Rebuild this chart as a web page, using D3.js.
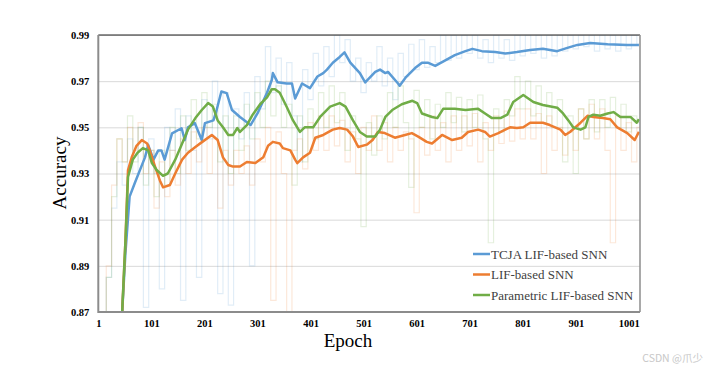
<!DOCTYPE html>
<html>
<head>
<meta charset="utf-8">
<script src="https://cdn.jsdelivr.net/npm/d3@7/dist/d3.min.js"></script>
<style>
body { margin: 0; background: #fff; }
svg { display: block; }
</style>
</head>
<body>
<div></div>
<script>
var width = 716;
var height = 372;

// tick labels
var xTicks = [1, 101, 201, 301, 401, 501, 601, 701, 801, 901, 1001];
var yTicks = [0.87, 0.89, 0.91, 0.93, 0.95, 0.97, 0.99];

var seriesNames = ["TCJA LIF-based SNN", "LIF-based SNN", "Parametric LIF-based SNN"];
var seriesColors = ["#5b9bd5", "#ed7d31", "#70ad47"];

// raw accuracy, read every 10 epochs (1, 11, ... 1021)
var rawEpochs = d3.range(1, 1022, 10);
var tcjaRaw = [0.80, 0.86, 0.885, 0.915, 0.935, 0.925, 0.945, 0.93, 0.95, 0.872,
    0.945, 0.93, 0.88, 0.95, 0.94, 0.958, 0.875, 0.955, 0.94, 0.885,
    0.962, 0.945, 0.97, 0.878, 0.965, 0.873, 0.958, 0.945, 0.965, 0.89,
    0.972, 0.958, 0.985, 0.965, 0.98, 0.96, 0.978, 0.955, 0.935, 0.975,
    0.962, 0.982, 0.968, 0.985, 0.972, 0.99, 0.978, 0.988, 0.97, 0.98,
    0.965, 0.978, 0.97, 0.985, 0.968, 0.98, 0.962, 0.982, 0.972, 0.986,
    0.975, 0.988, 0.976, 0.985, 0.978, 0.99, 0.979, 0.99, 0.98, 0.99,
    0.982, 0.99, 0.98, 0.988, 0.978, 0.99, 0.98, 0.988, 0.979, 0.99,
    0.981, 0.99, 0.982, 0.99, 0.98, 0.99, 0.981, 0.99, 0.983, 0.99,
    0.984, 0.99, 0.985, 0.99, 0.983, 0.99, 0.984, 0.99, 0.983, 0.99,
    0.984, 0.99, 0.986];
var lifRaw = [0.80, 0.85, 0.89, 0.925, 0.945, 0.935, 0.95, 0.94, 0.952, 0.93,
    0.94, 0.915, 0.935, 0.92, 0.94, 0.925, 0.945, 0.93, 0.948, 0.935,
    0.95, 0.93, 0.945, 0.915, 0.94, 0.925, 0.94, 0.93, 0.942, 0.925,
    0.945, 0.935, 0.95, 0.875, 0.948, 0.93, 0.87, 0.94, 0.945, 0.932,
    0.952, 0.94, 0.955, 0.94, 0.955, 0.942, 0.953, 0.935, 0.948, 0.93,
    0.95, 0.94, 0.955, 0.94, 0.952, 0.935, 0.95, 0.94, 0.948, 0.945,
    0.913, 0.95, 0.938, 0.955, 0.94, 0.952, 0.935, 0.955, 0.94, 0.955,
    0.942, 0.956, 0.935, 0.952, 0.94, 0.955, 0.943, 0.957, 0.944, 0.958,
    0.945, 0.958, 0.945, 0.956, 0.93, 0.955, 0.94, 0.95, 0.938, 0.948,
    0.94, 0.958, 0.945, 0.96, 0.945, 0.958, 0.94, 0.90, 0.955, 0.94,
    0.952, 0.935, 0.95];
var plifRaw = [0.80, 0.855, 0.885, 0.92, 0.945, 0.935, 0.955, 0.935, 0.95, 0.925,
    0.94, 0.92, 0.94, 0.925, 0.95, 0.93, 0.955, 0.94, 0.962, 0.945,
    0.965, 0.95, 0.96, 0.935, 0.955, 0.93, 0.955, 0.94, 0.96, 0.945,
    0.965, 0.95, 0.97, 0.955, 0.968, 0.95, 0.96, 0.925, 0.955, 0.935,
    0.958, 0.945, 0.965, 0.95, 0.968, 0.952, 0.965, 0.94, 0.955, 0.945,
    0.907, 0.952, 0.938, 0.955, 0.945, 0.965, 0.95, 0.968, 0.952, 0.924,
    0.966, 0.95, 0.962, 0.945, 0.96, 0.95, 0.965, 0.952, 0.963, 0.948,
    0.962, 0.95, 0.964, 0.945, 0.90, 0.958, 0.948, 0.962, 0.955, 0.972,
    0.958, 0.97, 0.955, 0.968, 0.952, 0.965, 0.95, 0.962, 0.935, 0.955,
    0.93, 0.958, 0.945, 0.962, 0.948, 0.962, 0.95, 0.963, 0.95, 0.96,
    0.948, 0.955, 0.952];

// smoothed curves
var tcjaEpochs = [42, 46, 52, 60, 70, 89, 95, 105, 114, 120, 126, 140, 158, 164, 170, 183, 196, 202, 218, 224,
    233, 243, 253, 268, 288, 301, 319, 328, 330, 339, 356, 366, 372, 385, 400, 414, 425, 432, 443, 456,
    465, 476, 494, 504, 523, 532, 542, 547, 566, 569, 580, 598, 611, 622, 636, 655, 673, 693, 706, 724,
    749, 768, 790, 815, 839, 866, 885, 904, 928, 961, 998, 1020];
var tcjaSmooth = [0.855, 0.87, 0.895, 0.920, 0.926, 0.937, 0.9424, 0.936, 0.940, 0.940, 0.936, 0.9474, 0.9496, 0.9445, 0.950, 0.9518, 0.9445, 0.9518, 0.953, 0.9575,
    0.9655, 0.9648, 0.9575, 0.9545, 0.951, 0.956, 0.965, 0.9705, 0.9735, 0.9695, 0.969, 0.969, 0.9625, 0.969, 0.967, 0.972, 0.9735, 0.975, 0.978, 0.9805,
    0.9825, 0.978, 0.9735, 0.9695, 0.974, 0.975, 0.9735, 0.974, 0.969, 0.968, 0.9715, 0.9757, 0.978, 0.978, 0.9766, 0.979, 0.9813, 0.983, 0.984, 0.983,
    0.9826, 0.982, 0.9826, 0.9835, 0.984, 0.983, 0.9844, 0.9857, 0.9865, 0.986, 0.9857, 0.9857];

var lifEpochs = [42, 46, 52, 57, 64, 73, 83, 93, 98, 108, 117, 123, 136, 146, 159, 170, 184, 197, 215, 226,
    236, 246, 255, 268, 281, 297, 312, 321, 330, 343, 349, 363, 372, 376, 387, 400, 410, 425, 443, 456,
    470, 481, 491, 507, 518, 528, 541, 560, 579, 592, 604, 620, 630, 649, 668, 686, 698, 717, 730, 739,
    755, 768, 777, 790, 802, 815, 839, 852, 872, 881, 890, 910, 923, 934, 952, 966, 979, 998, 1012, 1020];
var lifSmooth = [0.855, 0.87, 0.90, 0.9315, 0.937, 0.942, 0.9445, 0.943, 0.940, 0.933, 0.927, 0.924, 0.925, 0.930, 0.936, 0.939, 0.9415, 0.9437, 0.9467, 0.9445,
    0.937, 0.9337, 0.933, 0.933, 0.935, 0.9345, 0.937, 0.942, 0.9437, 0.943, 0.941, 0.940, 0.936, 0.9345, 0.937, 0.939, 0.9455, 0.9467, 0.949, 0.9497,
    0.949, 0.946, 0.9415, 0.9425, 0.9445, 0.948, 0.9475, 0.9455, 0.9467, 0.9475, 0.946, 0.9437, 0.943, 0.9467, 0.9445, 0.9455, 0.948, 0.949, 0.948, 0.946,
    0.9475, 0.949, 0.950, 0.9497, 0.950, 0.952, 0.952, 0.951, 0.949, 0.9467, 0.948, 0.952, 0.955, 0.9545, 0.954, 0.9535, 0.950, 0.9475, 0.9445, 0.948];

var plifEpochs = [42, 46, 52, 57, 66, 75, 85, 95, 102, 111, 123, 132, 146, 159, 170, 184, 196, 208, 217, 226,
    236, 246, 255, 263, 268, 281, 292, 306, 319, 328, 334, 343, 356, 368, 381, 390, 406, 419, 438, 456,
    467, 481, 494, 507, 523, 532, 542, 555, 573, 593, 602, 611, 630, 640, 651, 673, 693, 717, 730, 743,
    759, 772, 783, 802, 821, 839, 866, 877, 887, 896, 910, 919, 925, 934, 947, 961, 972, 985, 1004, 1016, 1020];
var plifSmooth = [0.855, 0.87, 0.90, 0.9285, 0.936, 0.939, 0.941, 0.940, 0.9345, 0.9315, 0.929, 0.930, 0.936, 0.943, 0.949, 0.954, 0.9575, 0.9605, 0.959, 0.953,
    0.950, 0.9467, 0.9467, 0.9497, 0.948, 0.951, 0.9555, 0.960, 0.963, 0.9665, 0.9665, 0.965, 0.9589, 0.953, 0.948, 0.950, 0.950, 0.9545, 0.959, 0.9605,
    0.959, 0.953, 0.948, 0.946, 0.946, 0.949, 0.9545, 0.9575, 0.960, 0.9615, 0.9605, 0.956, 0.9545, 0.954, 0.958, 0.958, 0.9575, 0.958, 0.956, 0.954,
    0.954, 0.9555, 0.961, 0.964, 0.961, 0.9597, 0.9585, 0.956, 0.953, 0.950, 0.949, 0.950, 0.9545, 0.9555, 0.955, 0.956, 0.9566, 0.9545, 0.9545, 0.952, 0.9535];

var plotLeft = 98.3, plotRight = 640, plotTop = 35, plotBottom = 312;

var svg = d3.select("div")
    .append("svg")
    .attr("width", width)
    .attr("height", height)
    .style("background", "#fff");

var x = d3.scaleLinear().domain([1, 1022]).range([plotLeft, plotRight]);
var y = d3.scaleLinear().domain([0.87, 0.99]).range([plotBottom, plotTop]);

svg.append("clipPath").attr("id", "plot")
    .append("rect")
    .attr("x", plotLeft).attr("y", plotTop)
    .attr("width", plotRight - plotLeft).attr("height", plotBottom - plotTop);

// gridlines
svg.append("g")
    .attr("transform", "translate(" + plotLeft + ",0)")
    .call(d3.axisLeft(y).tickValues(yTicks).tickSize(-(plotRight - plotLeft)).tickFormat(""))
    .call(function (g) {
        g.select(".domain").remove();
        g.selectAll("line").attr("stroke", "#d9d9d9").attr("stroke-width", 1);
    });

var line = d3.line()
    .x(function (d) { return x(d[0]); })
    .y(function (d) { return y(d[1]); });

// raw traces drawn as steps, closer to the dense vertical streaks of the original
var rawLine = d3.line()
    .curve(d3.curveStep)
    .x(function (d) { return x(d[0]); })
    .y(function (d) { return y(d[1]); });

function pairs(xs, ys) {
    return xs.map(function (e, i) { return [e, ys[i]]; });
}

var plot = svg.append("g").attr("clip-path", "url(#plot)");

var raws = [tcjaRaw, lifRaw, plifRaw];
raws.forEach(function (r, i) {
    plot.append("path")
        .datum(pairs(rawEpochs, r))
        .attr("fill", "none")
        .attr("stroke", seriesColors[i])
        .attr("stroke-opacity", 0.18)
        .attr("stroke-width", 1.2)
        .attr("d", rawLine);
});

var smooth = [pairs(tcjaEpochs, tcjaSmooth), pairs(lifEpochs, lifSmooth), pairs(plifEpochs, plifSmooth)];
smooth.forEach(function (s, i) {
    plot.append("path")
        .datum(s)
        .attr("fill", "none")
        .attr("stroke", seriesColors[i])
        .attr("stroke-width", 2.5)
        .attr("stroke-linejoin", "round")
        .attr("d", line);
});

// frame
svg.append("line").attr("x1", plotLeft).attr("x2", plotRight).attr("y1", plotTop).attr("y2", plotTop)
    .attr("stroke", "#222").attr("stroke-width", 1.2);
svg.append("line").attr("x1", plotRight).attr("x2", plotRight).attr("y1", plotTop).attr("y2", plotBottom)
    .attr("stroke", "#8c8c8c").attr("stroke-width", 1.5);
svg.append("line").attr("x1", plotLeft).attr("x2", plotLeft).attr("y1", plotTop).attr("y2", plotBottom + 1)
    .attr("stroke", "#8c8c8c").attr("stroke-width", 2);
svg.append("line").attr("x1", plotLeft).attr("x2", plotRight).attr("y1", plotBottom).attr("y2", plotBottom)
    .attr("stroke", "#8c8c8c").attr("stroke-width", 2);

// axes labels
var font = "'Times New Roman', 'Liberation Serif', serif";

svg.append("g")
    .attr("transform", "translate(" + plotLeft + ",0)")
    .call(d3.axisLeft(y).tickValues(yTicks).tickSize(0).tickPadding(9).tickFormat(d3.format(".2f")))
    .call(function (g) {
        g.select(".domain").remove();
        g.selectAll("text")
            .attr("font-family", font).attr("font-size", 10.5)
            .attr("font-weight", "bold").attr("fill", "#000");
    });

svg.append("g")
    .attr("transform", "translate(0," + plotBottom + ")")
    .call(d3.axisBottom(x).tickValues(xTicks).tickSize(0).tickPadding(8).tickFormat(d3.format("d")))
    .call(function (g) {
        g.select(".domain").remove();
        g.selectAll("text")
            .attr("font-family", font).attr("font-size", 10.5)
            .attr("font-weight", "bold").attr("fill", "#000");
    });

svg.append("text")
    .attr("transform", "translate(66,173) rotate(-90)")
    .attr("text-anchor", "middle")
    .attr("font-family", font).attr("font-size", 19)
    .text("Accuracy");

svg.append("text")
    .attr("x", 348).attr("y", 347)
    .attr("text-anchor", "middle")
    .attr("font-family", font).attr("font-size", 19)
    .text("Epoch");

// legend
var legend = svg.append("g").attr("transform", "translate(473,254)");
seriesNames.forEach(function (name, i) {
    var row = legend.append("g").attr("transform", "translate(0," + i * 20.5 + ")");
    row.append("line").attr("x1", 0).attr("x2", 17).attr("y1", 0).attr("y2", 0)
        .attr("stroke", seriesColors[i]).attr("stroke-width", 2.5);
    row.append("text").attr("x", 18).attr("y", 4.5)
        .attr("font-family", font).attr("font-size", 13).attr("fill", "#404040")
        .text(name);
});

// watermark
svg.append("text")
    .attr("x", 703).attr("y", 362)
    .attr("text-anchor", "end")
    .attr("font-family", "'Noto Sans CJK SC', 'Noto Sans', sans-serif")
    .attr("font-size", 10.5).attr("fill", "#c8c8c8")
    .text("CSDN @爪少");
</script>
</body>
</html>
